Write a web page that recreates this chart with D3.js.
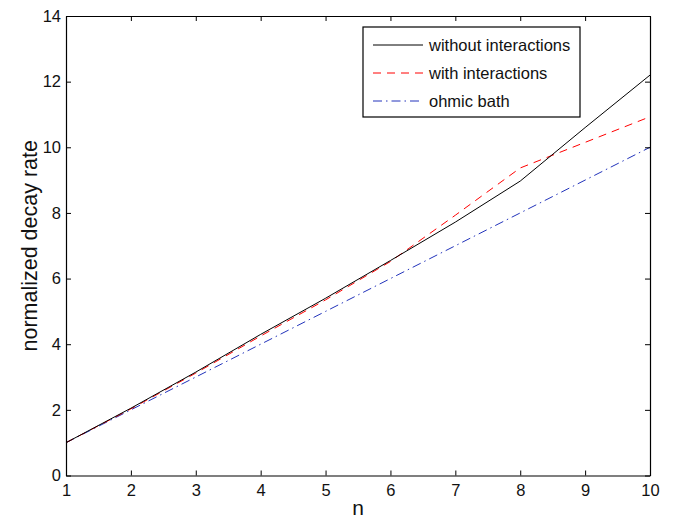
<!DOCTYPE html>
<html>
<head>
<meta charset="utf-8">
<script src="https://cdn.jsdelivr.net/npm/d3@7"></script>
<style>
  html, body { margin: 0; padding: 0; background: #fff; }
  svg { display: block; font-family: "Liberation Sans", Arial, Helvetica, sans-serif; }
</style>
</head>
<body>
<svg id="chart" width="674" height="521"></svg>
<script>
// Normalized decay rate versus n
const nValues = [1, 2, 3, 4, 5, 6, 7, 8, 9, 10];
const withoutInteractions = [1.0, 2.05, 3.15, 4.3, 5.4, 6.55, 7.72, 8.97, 10.6, 12.2];
const withInteractions = [1.0, 2.03, 3.12, 4.25, 5.35, 6.52, 7.93, 9.37, 10.15, 10.93];
const ohmicBath = [1, 2, 3, 4, 5, 6, 7, 8, 9, 10];
const xTicks = [1, 2, 3, 4, 5, 6, 7, 8, 9, 10];
const yTicks = [0, 2, 4, 6, 8, 10, 12, 14];
const seriesNames = ["without interactions", "with interactions", "ohmic bath"];

const svg = d3.select("#chart");
const margin = { left: 66, right: 24, top: 16, bottom: 45.5 };
const W = 674, H = 521;

const x = d3.scaleLinear().domain([1, 10]).range([margin.left, W - margin.right]);
const y = d3.scaleLinear().domain([0, 14]).range([H - margin.bottom, margin.top]);

const tickLen = 5;
const fontSize = 16.5;

// Axes with inward ticks on all four sides
const axisBottom = d3.axisBottom(x).tickValues(xTicks).tickSizeInner(-tickLen).tickSizeOuter(0).tickPadding(9);
const axisTop = d3.axisTop(x).tickValues(xTicks).tickSizeInner(-tickLen).tickSizeOuter(0).tickFormat("");
const axisLeft = d3.axisLeft(y).tickValues(yTicks).tickSizeInner(-tickLen).tickSizeOuter(0).tickPadding(5);
const axisRight = d3.axisRight(y).tickValues(yTicks).tickSizeInner(-tickLen).tickSizeOuter(0).tickFormat("");

function styleAxis(g) {
  g.select(".domain").attr("stroke", "#000").attr("stroke-width", 1.2);
  g.selectAll(".tick line").attr("stroke", "#000").attr("stroke-width", 1);
  g.selectAll(".tick text").attr("fill", "#111").style("font-size", fontSize + "px")
    .style("font-family", '"Liberation Sans", Arial, sans-serif');
}

// Series
const series = [
  { name: seriesNames[0], values: withoutInteractions, color: "#000", dash: null, width: 1 },
  { name: seriesNames[1], values: withInteractions, color: "#ff0000", dash: "8,6", width: 1 },
  { name: seriesNames[2], values: ohmicBath, color: "#2233bb", dash: "9,4,1.5,4", width: 1 }
];

const line = d3.line().x((d, i) => x(nValues[i])).y(d => y(d));

const lines = svg.append("g");
series.slice().reverse().forEach(s => {
  lines.append("path")
    .datum(s.values)
    .attr("d", line)
    .attr("fill", "none")
    .attr("stroke", s.color)
    .attr("stroke-width", s.width)
    .attr("stroke-dasharray", s.dash);
});

svg.append("g").attr("transform", `translate(0,${H - margin.bottom})`).call(axisBottom).call(styleAxis);
svg.append("g").attr("transform", `translate(0,${margin.top})`).call(axisTop).call(styleAxis);
svg.append("g").attr("transform", `translate(${margin.left},0)`).call(axisLeft).call(styleAxis);
svg.append("g").attr("transform", `translate(${W - margin.right},0)`).call(axisRight).call(styleAxis);

// Axis titles
svg.append("text")
  .attr("x", (x(1) + x(10)) / 2)
  .attr("y", 515)
  .attr("text-anchor", "middle")
  .style("font-size", "21px")
  .attr("fill", "#111")
  .text("n");

svg.append("text")
  .attr("transform", `translate(37,${(y(0) + y(14)) / 2}) rotate(-90)`)
  .attr("text-anchor", "middle")
  .style("font-size", "21.5px")
  .attr("fill", "#111")
  .text("normalized decay rate");

// Legend
const legend = svg.append("g").attr("transform", "translate(363,27)");
legend.append("rect")
  .attr("width", 217).attr("height", 90)
  .attr("fill", "#fff").attr("stroke", "#000").attr("stroke-width", 1.2);
series.forEach((s, i) => {
  const ly = 18 + i * 28;
  legend.append("line")
    .attr("x1", 10).attr("x2", 60).attr("y1", ly).attr("y2", ly)
    .attr("stroke", s.color).attr("stroke-width", 1)
    .attr("stroke-dasharray", s.dash);
  legend.append("text")
    .attr("x", 66).attr("y", ly + 6)
    .style("font-size", "16.5px")
    .attr("fill", "#111")
    .text(s.name);
});
</script>
</body>
</html>
